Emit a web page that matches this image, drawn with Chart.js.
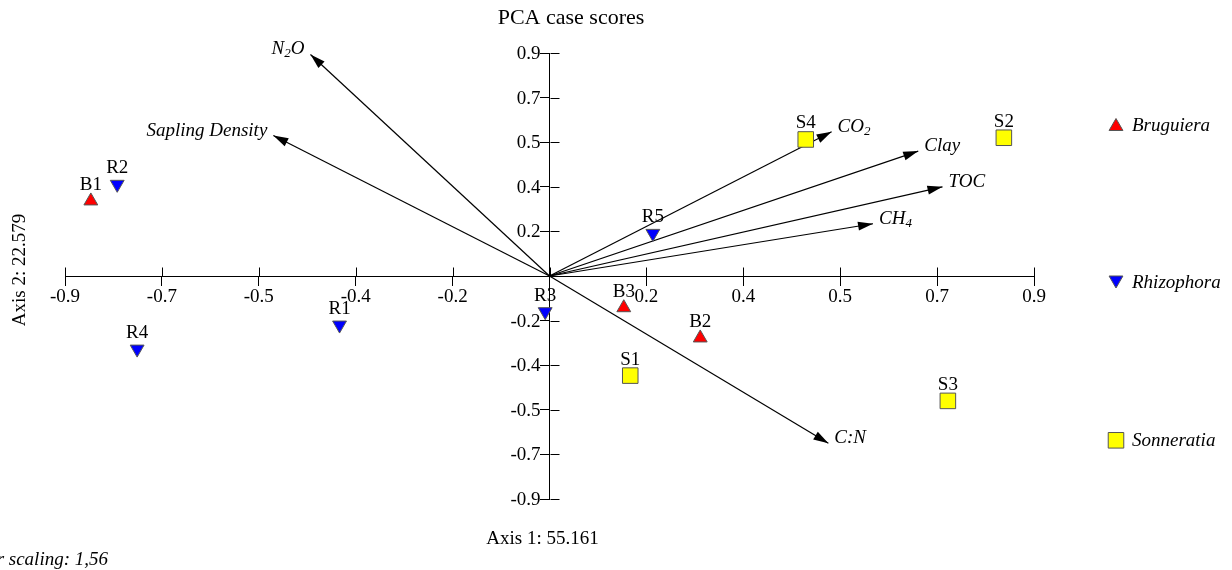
<!DOCTYPE html>
<html>
<head>
<meta charset="utf-8">
<title>PCA case scores</title>
<script src="https://cdn.jsdelivr.net/npm/chart.js@4.4.0/dist/chart.umd.min.js"></script>
<style>
  html, body { margin: 0; padding: 0; background: #fff; }
  canvas { display: block; }
</style>
</head>
<body>
<canvas id="pcaChart" width="1232" height="570"></canvas>
<script>
// case scores (axis 1, axis 2)
const bruguieraNames = ['B1', 'B2', 'B3'];
const bruguieraX = [-0.852, 0.280, 0.138];
const bruguieraY = [0.303, -0.250, -0.128];

const rhizophoraNames = ['R1', 'R2', 'R3', 'R4', 'R5'];
const rhizophoraX = [-0.390, -0.803, -0.008, -0.766, 0.192];
const rhizophoraY = [-0.198, 0.370, -0.144, -0.295, 0.172];

const sonneratiaNames = ['S1', 'S2', 'S3', 'S4'];
const sonneratiaX = [0.150, 0.844, 0.740, 0.476];
const sonneratiaY = [-0.402, 0.558, -0.504, 0.551];

// variable vectors (arrow tips)
const variableNames = ['N₂O', 'Sapling Density', 'CO₂', 'Clay', 'TOC', 'CH₄', 'C:N'];
const vectorX = [-0.444, -0.513, 0.524, 0.685, 0.730, 0.601, 0.518];
const vectorY = [0.894, 0.567, 0.582, 0.504, 0.360, 0.211, -0.675];

// axis ticks
const tickValues = [-0.9, -0.72, -0.54, -0.36, -0.18, 0, 0.18, 0.36, 0.54, 0.72, 0.9];
const tickLabels = ['-0.9', '-0.7', '-0.5', '-0.4', '-0.2', '', '0.2', '0.4', '0.5', '0.7', '0.9'];

const FONT = "'Liberation Serif', 'Times New Roman', serif";

function toPoints(xs, ys) {
    return xs.map((x, i) => ({ x: x, y: ys[i] }));
}

// text with subscript digits (N₂O, CO₂, CH₄)
function drawRichText(ctx, text, x, y, align) {
    const subs = { '₂': '2', '₄': '4' };
    const runs = [];
    for (const ch of text) {
        const sub = ch in subs;
        const c = sub ? subs[ch] : ch;
        if (runs.length && runs[runs.length - 1].sub === sub) runs[runs.length - 1].t += c;
        else runs.push({ t: c, sub: sub });
    }
    let total = 0;
    runs.forEach(r => {
        ctx.font = r.sub ? 'italic 13px ' + FONT : 'italic 19px ' + FONT;
        r.w = ctx.measureText(r.t).width;
        total += r.w;
    });
    let cx = align === 'right' ? x - total : x;
    ctx.textAlign = 'left';
    ctx.textBaseline = 'alphabetic';
    runs.forEach(r => {
        ctx.font = r.sub ? 'italic 13px ' + FONT : 'italic 19px ' + FONT;
        ctx.fillText(r.t, cx, r.sub ? y + 3 : y);
        cx += r.w;
    });
}

const groupDatasets = [
    { label: 'Bruguiera', names: bruguieraNames, data: toPoints(bruguieraX, bruguieraY),
      pointStyle: 'triangle', rotation: 0, pointRadius: 8, backgroundColor: '#ff0000' },
    { label: 'Rhizophora', names: rhizophoraNames, data: toPoints(rhizophoraX, rhizophoraY),
      pointStyle: 'triangle', rotation: 180, pointRadius: 8, backgroundColor: '#0000ff' },
    { label: 'Sonneratia', names: sonneratiaNames, data: toPoints(sonneratiaX, sonneratiaY),
      pointStyle: 'rect', rotation: 0, pointRadius: 11, backgroundColor: '#ffff00' }
].map(d => Object.assign(d, {
    type: 'scatter',
    borderColor: '#555555',
    borderWidth: 1,
    pointRotation: d.rotation,
    pointBackgroundColor: d.backgroundColor,
    pointBorderColor: '#555555'
}));

const vectorDatasets = variableNames.map((name, i) => ({
    type: 'line',
    label: name,
    data: [{ x: 0, y: 0 }, { x: vectorX[i], y: vectorY[i] }],
    borderColor: '#000',
    borderWidth: 1.2,
    pointRadius: 0,
    fill: false
}));

// marker outline used by the legend (same geometry as Chart.js point styles)
function drawMarkerPath(ctx, ds, x, y) {
    const r = ds.pointRadius;
    if (ds.pointStyle === 'rect') {
        const s = Math.SQRT1_2 * r;
        ctx.rect(x - s, y - s, 2 * s, 2 * s);
        return;
    }
    let rad = ds.rotation * Math.PI / 180;
    for (let k = 0; k < 3; k++) {
        const px = x + Math.sin(rad) * r;
        const py = y - Math.cos(rad) * r;
        if (k === 0) ctx.moveTo(px, py); else ctx.lineTo(px, py);
        rad += 2 * Math.PI / 3;
    }
    ctx.closePath();
}

// arrows, labels, crossing ticks, titles, legend
const biplotPlugin = {
    id: 'biplot',
    afterDatasetsDraw(chart) {
        const ctx = chart.ctx;
        const xs = chart.scales.x, ys = chart.scales.y;
        const x0 = Math.round(xs.getPixelForValue(0)) + 0.5;
        const y0 = Math.round(ys.getPixelForValue(0)) + 0.5;
        ctx.save();

        // inner half of the tick marks
        ctx.strokeStyle = '#000';
        ctx.lineWidth = 1;
        ctx.beginPath();
        tickValues.forEach(v => {
            const px = Math.round(xs.getPixelForValue(v)) + 0.5;
            ctx.moveTo(px, y0);
            ctx.lineTo(px, y0 - 9);
            const py = Math.round(ys.getPixelForValue(v)) + 0.5;
            ctx.moveTo(x0, py);
            ctx.lineTo(x0 + 9, py);
        });
        ctx.stroke();

        // y tick labels, left of the vertical axis
        ctx.fillStyle = '#000';
        ctx.font = '19px ' + FONT;
        ctx.textAlign = 'right';
        ctx.textBaseline = 'middle';
        ys.ticks.forEach((t, i) => {
            ctx.fillText(tickLabels[i], x0 - 10, ys.getPixelForValue(t.value) + 1);
        });

        // arrow heads and variable names
        variableNames.forEach((name, i) => {
            const tx = xs.getPixelForValue(vectorX[i]);
            const ty = ys.getPixelForValue(vectorY[i]);
            const ang = Math.atan2(ty - ys.getPixelForValue(0), tx - xs.getPixelForValue(0));
            const len = 15, half = 4.5;
            const bx = tx - len * Math.cos(ang), by = ty - len * Math.sin(ang);
            ctx.beginPath();
            ctx.moveTo(tx, ty);
            ctx.lineTo(bx + half * Math.sin(ang), by - half * Math.cos(ang));
            ctx.lineTo(bx - half * Math.sin(ang), by + half * Math.cos(ang));
            ctx.closePath();
            ctx.fill();
            if (vectorX[i] < 0) drawRichText(ctx, name, tx - 6, ty, 'right');
            else drawRichText(ctx, name, tx + 6, ty, 'left');
        });

        // case labels
        ctx.font = '19px ' + FONT;
        ctx.textAlign = 'center';
        ctx.textBaseline = 'alphabetic';
        chart.data.datasets.forEach(ds => {
            if (!ds.names) return;
            ds.data.forEach((p, j) => {
                const px = xs.getPixelForValue(p.x);
                const py = ys.getPixelForValue(p.y);
                ctx.fillText(ds.names[j], px, py - 11);
            });
        });
        ctx.restore();
    },
    afterDraw(chart) {
        const ctx = chart.ctx;
        ctx.save();
        ctx.fillStyle = '#000';
        ctx.textBaseline = 'alphabetic';

        // title
        ctx.font = '22px ' + FONT;
        ctx.textAlign = 'center';
        ctx.fillText('PCA case scores', 571, 23.5);

        // axis titles
        ctx.font = '19px ' + FONT;
        ctx.fillText('Axis 1: 55.161', 542.5, 544);
        ctx.save();
        ctx.translate(25, 270);
        ctx.rotate(-Math.PI / 2);
        ctx.fillText('Axis 2: 22.579', 0, 0);
        ctx.restore();

        // vector scaling note
        ctx.font = 'italic 19px ' + FONT;
        ctx.textAlign = 'right';
        ctx.fillText('Vector scaling: 1,56', 108, 565);

        // legend
        const legendY = [124.5, 282, 440.3];
        groupDatasets.forEach((ds, i) => {
            let cy = legendY[i];
            if (ds.pointStyle === 'triangle') cy += ds.rotation === 0 ? 2 : -2;
            ctx.fillStyle = ds.backgroundColor;
            ctx.strokeStyle = '#555555';
            ctx.lineWidth = 1;
            ctx.beginPath();
            drawMarkerPath(ctx, ds, 1116, cy);
            ctx.fill();
            ctx.stroke();
            ctx.fillStyle = '#000';
            ctx.font = 'italic 19px ' + FONT;
            ctx.textAlign = 'left';
            ctx.fillText(ds.label, 1132, legendY[i] + 6);
        });
        ctx.restore();
    }
};

const axisCommon = {
    type: 'linear',
    min: -0.9,
    max: 0.9,
    afterBuildTicks: s => { s.ticks = tickValues.map(v => ({ value: v })); },
    grid: { drawOnChartArea: false, tickLength: 9, color: '#000', lineWidth: 1 },
    border: { color: '#000', width: 1 },
    ticks: {
        color: '#000',
        font: { family: FONT, size: 19 },
        autoSkip: false,
        maxRotation: 0,
        minRotation: 0,
        callback: (v, i) => tickLabels[i]
    }
};

const ctx = document.getElementById('pcaChart').getContext('2d');
const pcaChart = new Chart(ctx, {
    type: 'scatter',
    data: { datasets: groupDatasets.concat(vectorDatasets) },
    options: {
        responsive: false,
        animation: false,
        events: [],
        layout: { padding: { left: 65, right: 198, top: 53, bottom: 71 } },
        plugins: {
            legend: { display: false },
            title: { display: false },
            tooltip: { enabled: false }
        },
        scales: {
            x: Object.assign({}, axisCommon, {
                position: { y: 0 },
                afterFit: s => { s.height = 0; },
                ticks: Object.assign({}, axisCommon.ticks, { padding: 1 })
            }),
            y: Object.assign({}, axisCommon, {
                position: { x: 0 },
                afterFit: s => { s.width = 0; },
                ticks: Object.assign({}, axisCommon.ticks, { display: false })
            })
        }
    },
    plugins: [biplotPlugin]
});
</script>
</body>
</html>
